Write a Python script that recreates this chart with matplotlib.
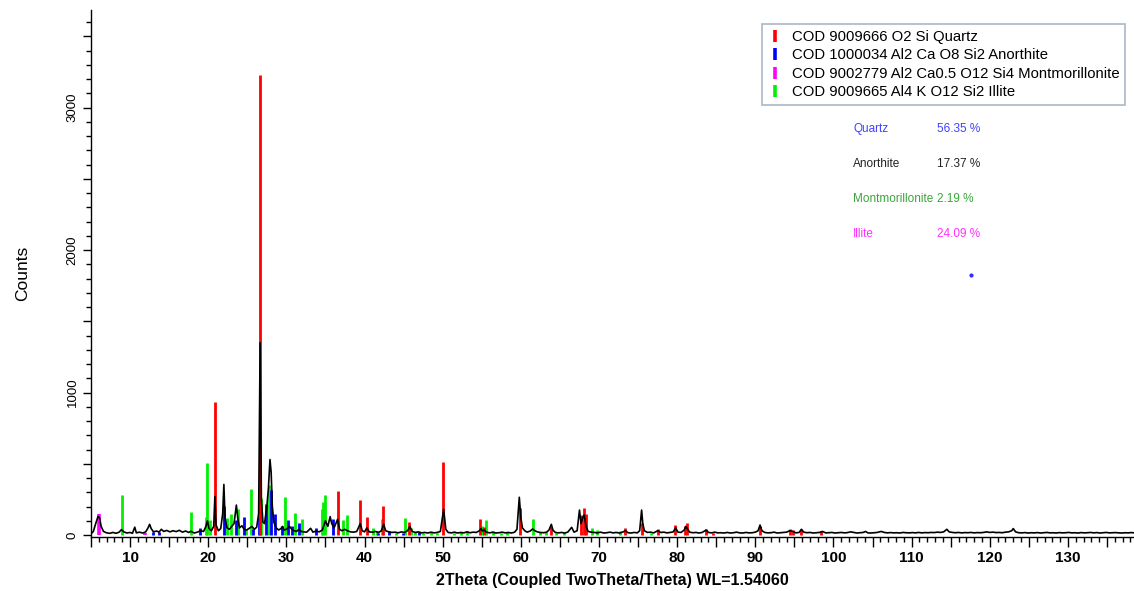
import matplotlib
matplotlib.use("Agg")
import matplotlib.pyplot as plt
from matplotlib.lines import Line2D
from matplotlib.ticker import FixedLocator, MultipleLocator, FuncFormatter

plt.rcParams["font.family"] = ["Liberation Sans", "DejaVu Sans"]

MEAS_2THETA = [
    5.0, 5.3, 5.6, 5.9, 6.1, 6.3, 6.6, 7.0, 7.4, 7.8, 8.2, 8.6, 8.9, 9.2, 9.6,
    10.0, 10.3, 10.6, 10.8, 11.2, 11.6, 12.0, 12.3, 12.5, 12.7, 13.0, 13.4, 13.7, 14.0, 14.3,
    14.7, 15.1, 15.5, 15.9, 16.3, 16.7, 17.1, 17.5, 17.8, 18.2, 18.6, 19.0, 19.4, 19.7, 19.9,
    20.1, 20.4, 20.7, 20.85, 21.0, 21.3, 21.6, 21.85, 22.0, 22.15, 22.4, 22.7, 23.0, 23.3, 23.6,
    23.8, 24.0, 24.3, 24.6, 24.9, 25.2, 25.6, 25.9, 26.2, 26.45, 26.64, 26.8, 27.0, 27.2, 27.5,
    27.7, 27.9, 28.05, 28.2, 28.4, 28.7, 29.0, 29.3, 29.5, 29.7, 30.0, 30.4, 30.7, 31.0, 31.3,
    31.6, 31.9, 32.2, 32.6, 33.1, 33.4, 33.8, 34.2, 34.6, 35.0, 35.3, 35.6, 35.8, 36.1, 36.55,
    36.8, 37.1, 37.5, 37.8, 38.2, 38.6, 39.0, 39.45, 39.7, 40.0, 40.3, 40.6, 41.0, 41.4, 41.8,
    42.15, 42.45, 42.7, 43.1, 43.5, 43.9, 44.3, 44.7, 45.1, 45.5, 45.8, 46.1, 46.5, 46.9, 47.3,
    47.7, 48.1, 48.5, 48.9, 49.3, 49.7, 50.12, 50.4, 50.7, 51.1, 51.5, 51.9, 52.3, 52.7, 53.1,
    53.5, 53.9, 54.3, 54.7, 54.9, 55.1, 55.3, 55.6, 56.0, 56.4, 56.8, 57.2, 57.6, 58.0, 58.4,
    58.8, 59.2, 59.5, 59.8, 60.0, 60.2, 60.5, 60.8, 61.2, 61.5, 61.8, 62.1, 62.5, 62.9, 63.3,
    63.6, 63.9, 64.1, 64.4, 64.8, 65.2, 65.6, 66.0, 66.5, 66.8, 67.2, 67.5, 67.7, 67.9, 68.1,
    68.35, 68.6, 69.0, 69.4, 69.8, 70.2, 70.6, 71.0, 71.4, 71.8, 72.2, 72.6, 73.0, 73.4, 73.7,
    74.1, 74.5, 74.9, 75.2, 75.45, 75.6, 75.8, 76.2, 76.6, 77.0, 77.5, 77.9, 78.3, 78.7, 79.1,
    79.5, 79.8, 80.1, 80.5, 80.9, 81.1, 81.35, 81.6, 82.0, 82.4, 82.8, 83.2, 83.7, 84.0, 84.4,
    84.8, 85.2, 85.6, 86.0, 86.4, 86.8, 87.2, 87.6, 88.0, 88.4, 88.8, 89.2, 89.6, 90.0, 90.35,
    90.6, 90.85, 91.2, 91.6, 92.0, 92.4, 92.8, 93.2, 93.6, 94.0, 94.4, 94.8, 95.2, 95.6, 95.9,
    96.2, 96.6, 97.0, 97.4, 97.8, 98.2, 98.6, 99.0, 99.4, 99.8, 100.2, 100.6, 101.0, 101.4, 101.8,
    102.2, 102.6, 103.0, 103.4, 103.8, 104.1, 104.4, 104.8, 105.2, 105.6, 106.1, 106.5, 106.9, 107.3, 107.7,
    108.1, 108.5, 108.9, 109.3, 109.7, 110.1, 110.5, 110.9, 111.3, 111.7, 112.1, 112.5, 112.9, 113.3, 113.7,
    114.1, 114.5, 114.8, 115.2, 115.6, 116.0, 116.4, 116.8, 117.2, 117.6, 118.0, 118.4, 118.8, 119.2, 119.6,
    120.0, 120.4, 120.8, 121.2, 121.6, 122.0, 122.4, 122.8, 123.0, 123.3, 123.7, 124.1, 124.5, 124.9, 125.3,
    125.7, 126.1, 126.5, 126.9, 127.3, 127.7, 128.1, 128.5, 128.9, 129.3, 129.7, 130.1, 130.5, 130.9, 131.3,
    131.7, 132.1, 132.5, 132.9, 133.3, 133.7, 134.1, 134.5, 134.9, 135.3, 135.7, 136.1, 136.5, 136.9, 137.3,
    137.7, 138.1, 138.5,
]
MEAS_COUNTS = [
    8, 25, 80, 130, 120, 60, 25, 15, 12, 18, 12, 20, 38, 22, 14,
    18, 12, 55, 15, 20, 14, 22, 50, 75, 45, 22, 28, 20, 40, 25,
    32, 22, 30, 24, 33, 20, 28, 18, 26, 14, 20, 30, 25, 60, 100,
    45, 30, 60, 270, 70, 30, 45, 150, 355, 120, 50, 40, 60, 80, 210,
    110, 50, 65, 40, 35, 45, 60, 40, 55, 150, 1350, 250, 90, 80, 200,
    330, 530, 440, 200, 90, 50, 35, 45, 60, 35, 40, 60, 40, 30, 25,
    40, 25, 22, 20, 47, 20, 28, 22, 35, 100, 60, 129, 80, 50, 110,
    40, 30, 40, 30, 22, 20, 25, 80, 30, 22, 50, 22, 20, 25, 18,
    30, 75, 30, 22, 18, 20, 15, 22, 18, 30, 60, 25, 18, 22, 15,
    18, 14, 20, 15, 18, 25, 180, 40, 18, 15, 20, 14, 18, 15, 22,
    16, 20, 18, 30, 45, 28, 35, 20, 15, 20, 14, 16, 20, 15, 18,
    14, 20, 40, 265, 120, 50, 30, 20, 28, 42, 30, 22, 18, 16, 20,
    35, 75, 35, 18, 15, 18, 14, 20, 54, 20, 30, 175, 80, 120, 140,
    60, 25, 20, 18, 15, 20, 14, 16, 20, 15, 18, 14, 20, 30, 16,
    14, 18, 15, 30, 175, 80, 30, 18, 20, 15, 30, 18, 20, 15, 18,
    22, 50, 20, 18, 35, 60, 40, 20, 16, 18, 14, 18, 35, 18, 15,
    20, 15, 16, 14, 18, 14, 16, 20, 15, 14, 18, 15, 16, 20, 30,
    70, 30, 18, 15, 16, 20, 14, 16, 18, 20, 30, 25, 15, 18, 40,
    20, 16, 18, 14, 16, 18, 25, 15, 16, 18, 14, 16, 18, 15, 17,
    22, 18, 14, 16, 18, 25, 15, 14, 16, 18, 25, 18, 15, 17, 15,
    16, 14, 18, 16, 15, 17, 15, 18, 15, 17, 16, 18, 17, 20, 18,
    22, 40, 22, 18, 16, 18, 15, 17, 16, 18, 15, 17, 16, 18, 22,
    18, 20, 17, 18, 16, 20, 22, 30, 45, 22, 16, 15, 17, 14, 16,
    15, 17, 14, 16, 18, 15, 16, 14, 17, 15, 16, 18, 15, 16, 14,
    17, 15, 16, 18, 15, 17, 14, 16, 18, 15, 16, 17, 15, 14, 16,
    15, 17, 15,
]

# reference stick patterns
QUARTZ_POS = [20.87, 26.64, 36.55, 39.45, 40.3, 42.4, 45.7, 50.07, 54.76, 55.27,
              59.88, 63.84, 67.65, 68.05, 68.3, 73.3, 75.55, 77.5, 79.7, 80.97,
              81.27, 83.66, 84.6, 90.56, 94.4, 94.8, 95.9, 98.45]
QUARTZ_INT = [935, 3230, 309, 246, 129, 206, 89, 510, 112, 54,
              187, 54, 140, 187, 147, 47, 87, 40, 70, 63,
              82, 40, 15, 66, 40, 33, 42, 28]

ANORTHITE_POS = [12.9, 13.7, 18.95, 22.05, 23.5, 24.6, 25.7, 26.45, 27.4, 28.06,
                 28.6, 29.5, 30.25, 30.75, 31.65, 33.8, 35.9, 41.7, 43.16, 44.9, 47.0]
ANORTHITE_INT = [20, 22, 47, 203, 105, 129, 40, 129, 215, 316,
                 147, 63, 105, 63, 87, 47, 110, 12, 30, 12, 24]

MONTMOR_POS = [6.0, 11.9]
MONTMOR_INT = [145, 12]

ILLITE_POS = [8.94, 17.76, 19.7, 19.89, 20.2, 22.36, 22.85, 23.85, 24.8, 25.43,
              26.75, 27.8, 29.78, 31.1, 31.95, 34.5, 34.7, 34.97, 37.3, 37.7,
              41.1, 41.6, 42.26, 44.0, 45.2, 45.9, 46.5, 47.5, 48.5, 49.3,
              51.5, 52.3, 53.05, 54.97, 55.5, 56.4, 57.5, 58.2, 61.5, 62.5,
              63.2, 64.5, 65.5, 69.1, 69.75, 72.7, 76.7]
ILLITE_INT = [281, 164, 124, 503, 105, 117, 146, 180, 40, 322,
              260, 350, 269, 152, 110, 184, 234, 281, 108, 140,
              47, 30, 110, 15, 120, 52, 20, 12, 18, 12,
              15, 20, 26, 63, 105, 30, 15, 20, 112, 18,
              20, 15, 20, 47, 35, 30, 15]

LEGEND_LABELS = [
    "COD 9009666 O2 Si Quartz",
    "COD 1000034 Al2 Ca O8 Si2 Anorthite",
    "COD 9002779 Al2 Ca0.5 O12 Si4 Montmorillonite",
    "COD 9009665 Al4 K O12 Si2 Illite",
]
PHASE_NAMES = ["Quartz", "Anorthite", "Montmorillonite", "Illite"]
PHASE_PCT = ["56.35 %", "17.37 %", "2.19 %", "24.09 %"]
PHASE_COLORS = ["#4040ff", "#222222", "#3aa63a", "#ff30ff"]
DOT_POS = (117.6, 1825)

W, H = 1134, 591
fig = plt.figure(figsize=(W / 100, H / 100), dpi=100)
ax = fig.add_axes([91 / W, 54 / H, 1 - 91 / W, 527 / H])

ax.vlines(ILLITE_POS, 0, ILLITE_INT, color="#00f000", lw=2.0)
ax.vlines(ANORTHITE_POS, 0, ANORTHITE_INT, color="#0000ff", lw=2.0)
ax.vlines(MONTMOR_POS, 0, MONTMOR_INT, color="#ff00ff", lw=2.6)
ax.vlines(QUARTZ_POS, 0, QUARTZ_INT, color="#ff0000", lw=2.0)
ax.plot(MEAS_2THETA, MEAS_COUNTS, color="black", lw=1.2)
ax.plot([DOT_POS[0]], [DOT_POS[1]], marker="o", ms=2, color="#3030ff")

ax.set_xlim(5.0, 138.45)
ax.set_ylim(-14, 3686)

for s in ["top", "right"]:
    ax.spines[s].set_visible(False)
for s in ["left", "bottom"]:
    ax.spines[s].set_linewidth(1.0)

ax.xaxis.set_major_locator(MultipleLocator(5))
ax.xaxis.set_minor_locator(MultipleLocator(1))
ax.xaxis.set_major_formatter(FuncFormatter(lambda v, p: f"{v:.0f}" if round(v) % 10 == 0 else ""))
ax.yaxis.set_major_locator(FixedLocator(range(0, 3600, 500)))
ax.yaxis.set_minor_locator(MultipleLocator(100))
ax.yaxis.set_major_formatter(FuncFormatter(lambda v, p: f"{v:.0f}" if round(v) % 1000 == 0 else ""))

ax.tick_params(axis="x", which="major", length=7, width=1, pad=3, labelsize=11)
ax.tick_params(axis="x", which="minor", length=3.5, width=1)
ax.tick_params(axis="y", which="major", length=6, width=1, pad=3, labelsize=9.5)
ax.tick_params(axis="y", which="minor", length=3.5, width=1)
for t in ax.get_xticklabels():
    t.set_fontweight("bold")
plt.setp(ax.get_yticklabels(), rotation=90, va="center")

ax.set_xlabel("2Theta (Coupled TwoTheta/Theta) WL=1.54060", fontsize=11.5,
              fontweight="bold", labelpad=6)
ax.set_ylabel("Counts", fontsize=12.5, labelpad=26)

handles = [Line2D([], [], color=c, marker="|", linestyle="None", markersize=9,
                  markeredgewidth=2.6)
           for c in ["#ff0000", "#0000ff", "#ff00ff", "#00f000"]]
leg = fig.legend(handles, LEGEND_LABELS, loc="upper left",
                 bbox_to_anchor=(762 / W, 1 - 24 / H), borderaxespad=0,
                 fontsize=10.7, frameon=True, fancybox=False, handlelength=0.9,
                 handletextpad=0.7, labelspacing=0.3, borderpad=0.4)
leg.get_frame().set_edgecolor("#9aa4b8")
leg.get_frame().set_linewidth(1.2)

for i, (name, pct, col) in enumerate(zip(PHASE_NAMES, PHASE_PCT, PHASE_COLORS)):
    y = 1 - (129 + 35 * i) / H
    fig.text(853 / W, y, name, color=col, fontsize=8.5, va="center")
    fig.text(937 / W, y, pct, color=col, fontsize=8.5, va="center")

fig.savefig("out.png", dpi=100)
